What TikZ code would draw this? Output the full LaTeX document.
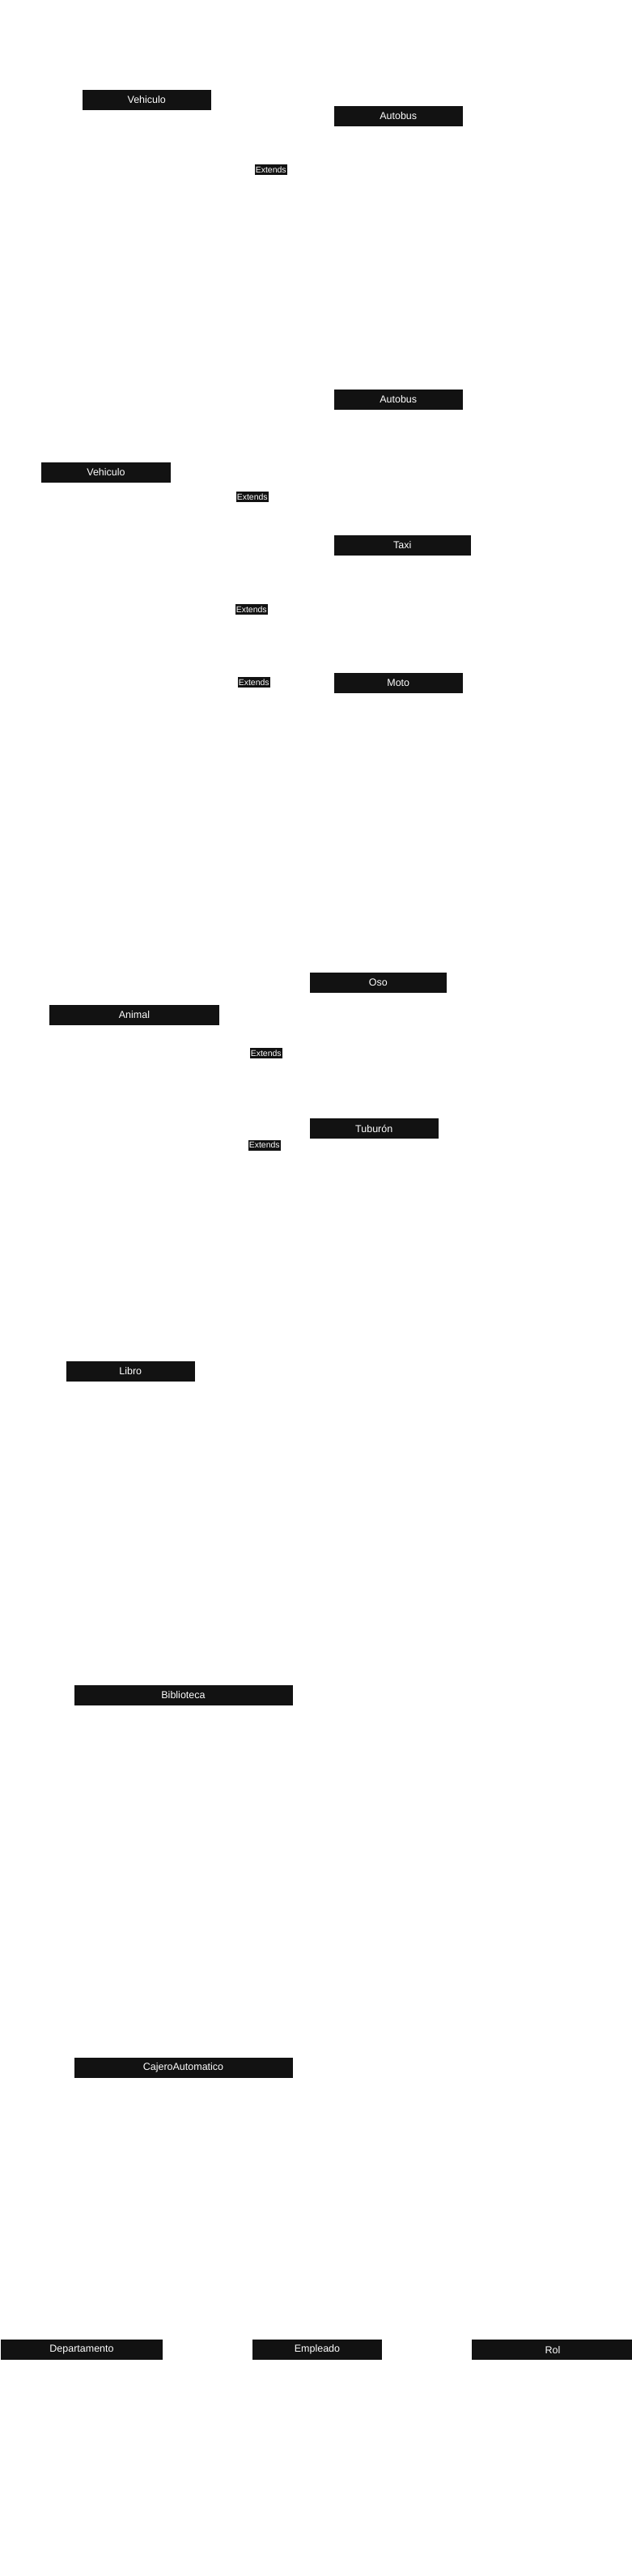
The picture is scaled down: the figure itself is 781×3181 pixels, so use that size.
\documentclass[tikz,border=0pt]{standalone}
\usepackage{fontspec}
\setmainfont{Liberation Sans}
\definecolor{hdr}{HTML}{121212}
\begin{document}
\begin{tikzpicture}[x=1pt,y=-1pt,
  cls/.style={fill=hdr,text=white,inner sep=0pt,minimum height=25pt,font=\fontsize{12.5}{14}\selectfont},
  extlbl/.style={fill=hdr,text=white,inner sep=0pt,minimum height=13pt,minimum width=39.5pt,font=\fontsize{10.5}{12}\selectfont}]
\useasboundingbox[fill=white] (0,0) rectangle (781,3181);
% Diagram 1
\node[cls,minimum width=159.5pt] (veh1) at (181.25,123.3) {Vehiculo};
\node[cls,minimum width=159.5pt] (aut1) at (492.25,143.5) {Autobus};
\node[extlbl] (ext1) at (334.75,209.5) {Extends};
% Diagram 2
\node[cls,minimum width=159.5pt] (aut2) at (492.25,493.5) {Autobus};
\node[cls,minimum width=160pt] (veh2) at (131,583.5) {Vehiculo};
\node[extlbl] (ext2a) at (311.75,613.5) {Extends};
\node[cls,minimum width=169.5pt] (taxi) at (497.25,673.5) {Taxi};
\node[extlbl] (ext2b) at (310.75,752.5) {Extends};
\node[extlbl] (ext2c) at (313.75,842.5) {Extends};
\node[cls,minimum width=159.5pt] (moto) at (492.25,843.5) {Moto};
% Diagram 3
\node[cls,minimum width=169.5pt] (oso) at (467.25,1213.5) {Oso};
\node[cls,minimum width=210pt] (animal) at (166,1253.5) {Animal};
\node[extlbl] (ext3a) at (328.75,1300.5) {Extends};
\node[cls,minimum width=159.5pt] (tub) at (462.25,1393.5) {Tuburón};
\node[extlbl] (ext3b) at (326.75,1414.2) {Extends};
% Diagram 4
\node[cls,minimum width=159.5pt] (libro) at (161.25,1693.5) {Libro};
% Diagram 5
\node[cls,minimum width=270pt] (biblio) at (226.5,2093.5) {Biblioteca};
% Diagram 6
\node[cls,minimum width=270pt] (cajero) at (226.5,2553.5) {CajeroAutomatico};
% Diagram 7
\node[cls,minimum width=200pt] (depto) at (101,2901.5) {Departamento};
\node[cls,minimum width=160pt] (emp) at (392,2901.5) {Empleado};
\node[cls,minimum width=200pt] (rol) at (683,2901.5) {Rol};
\end{tikzpicture}
\end{document}
